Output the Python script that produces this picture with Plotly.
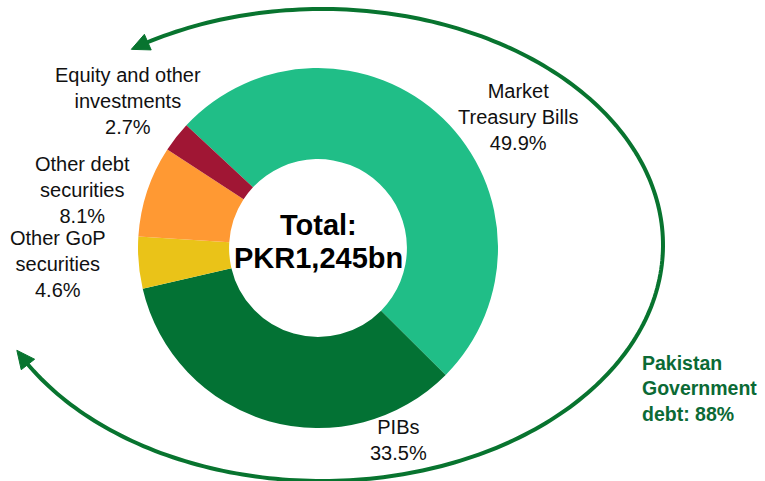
import numpy as np
import plotly.graph_objects as go

# ---- data ----
categories = ["Market Treasury Bills", "PIBs", "Other GoP securities",
              "Other debt securities", "Equity and other investments"]
label_lines = ["Market<br>Treasury Bills", "PIBs", "Other GoP<br>securities",
               "Other debt<br>securities", "Equity and other<br>investments"]
shares = [49.9, 33.5, 4.6, 8.1, 2.7]
total_title = "Total:"
total_value = "PKR1,245bn"
govt_note = "Pakistan<br>Government<br>debt: 88%"

# ---- styling / layout ----
W, H = 765, 481
colors = ["#20BE87", "#037234", "#EAC318", "#FF9933", "#A01634"]
arc_color = "#08742F"
note_color = "#0B6A35"
font_family = "Liberation Sans, Arial, sans-serif"

cx_p, cy_p, R = 318, 248, 180   # donut centre / radius in pixels
label_pos = [(518, 117), (398, 440), (58, 264), (82, 190), (128, 101)]

fig = go.Figure()

fig.add_trace(go.Pie(
    labels=categories, values=shares, sort=False, direction="clockwise",
    rotation=-47, hole=0.494,
    marker=dict(colors=colors, line=dict(width=0)),
    textinfo="none", hoverinfo="label+percent", showlegend=False,
    domain=dict(x=[(cx_p - R) / W, (cx_p + R) / W],
                y=[(H - cy_p - R) / H, (H - cy_p + R) / H]),
))

# ---- double-headed elliptical arrow ----
ecx, ecy, erx, ery = 322, 245, 341, 236
th0, th1 = np.deg2rad(-124.0), np.deg2rad(153.5)
head_len, head_hw = 18, 8.5

def pt(t):
    return np.array([ecx + erx * np.cos(t), ecy + ery * np.sin(t)])

def speed(t):
    return np.hypot(erx * np.sin(t), ery * np.cos(t))

d0 = head_len / speed(th0)
d1 = head_len / speed(th1)
ts = np.linspace(th0 + d0 * 0.9, th1 - d1 * 0.9, 240)
pts = [pt(t) for t in ts]
path = "M " + " L ".join(f"{p[0]:.2f},{p[1]:.2f}" for p in pts)
fig.add_shape(type="path", path=path, xref="x", yref="y",
              line=dict(color=arc_color, width=4))

def head(tip_t, base_t):
    tip = pt(tip_t)
    base = pt(base_t)
    d = tip - base
    d = d / np.linalg.norm(d)
    b = tip - d * head_len
    n = np.array([-d[1], d[0]])
    p1 = b + n * head_hw
    p2 = b - n * head_hw
    return (f"M {tip[0]:.2f},{tip[1]:.2f} L {p1[0]:.2f},{p1[1]:.2f} "
            f"L {p2[0]:.2f},{p2[1]:.2f} Z")

for tip_t, base_t in [(th0, th0 + d0), (th1, th1 - d1)]:
    fig.add_shape(type="path", path=head(tip_t, base_t), xref="x", yref="y",
                  fillcolor=arc_color, line=dict(color=arc_color, width=1))

# ---- labels ----
for txt, v, (x, y) in zip(label_lines, shares, label_pos):
    fig.add_annotation(x=x, y=y, xref="x", yref="y", text=f"{txt}<br>{v}%",
                       showarrow=False, xanchor="center", yanchor="middle",
                       align="center",
                       font=dict(family=font_family, size=20, color="#111111"))

fig.add_annotation(x=cx_p, y=225, xref="x", yref="y", text=f"<b>{total_title}</b>",
                   showarrow=False, xanchor="center", yanchor="middle",
                   font=dict(family=font_family, size=29, color="#000000"))
fig.add_annotation(x=cx_p, y=258, xref="x", yref="y", text=f"<b>{total_value}</b>",
                   showarrow=False, xanchor="center", yanchor="middle",
                   font=dict(family=font_family, size=29, color="#000000"))

fig.add_annotation(x=640, y=388, xref="x", yref="y", text=f"<b>{govt_note}</b>",
                   showarrow=False, xanchor="left", yanchor="middle", align="left",
                   font=dict(family=font_family, size=19.5, color=note_color))

fig.update_layout(
    width=W, height=H, margin=dict(l=0, r=0, t=0, b=0),
    paper_bgcolor="white", plot_bgcolor="rgba(0,0,0,0)",
    xaxis=dict(range=[0, W], visible=False, domain=[0, 1], fixedrange=True),
    yaxis=dict(range=[H, 0], visible=False, domain=[0, 1], fixedrange=True),
    showlegend=False,
)

fig.write_html(
    "out.html",
    config={"displayModeBar": False},
    post_script="document.body.style.margin='0';document.body.style.overflow='hidden';",
)
